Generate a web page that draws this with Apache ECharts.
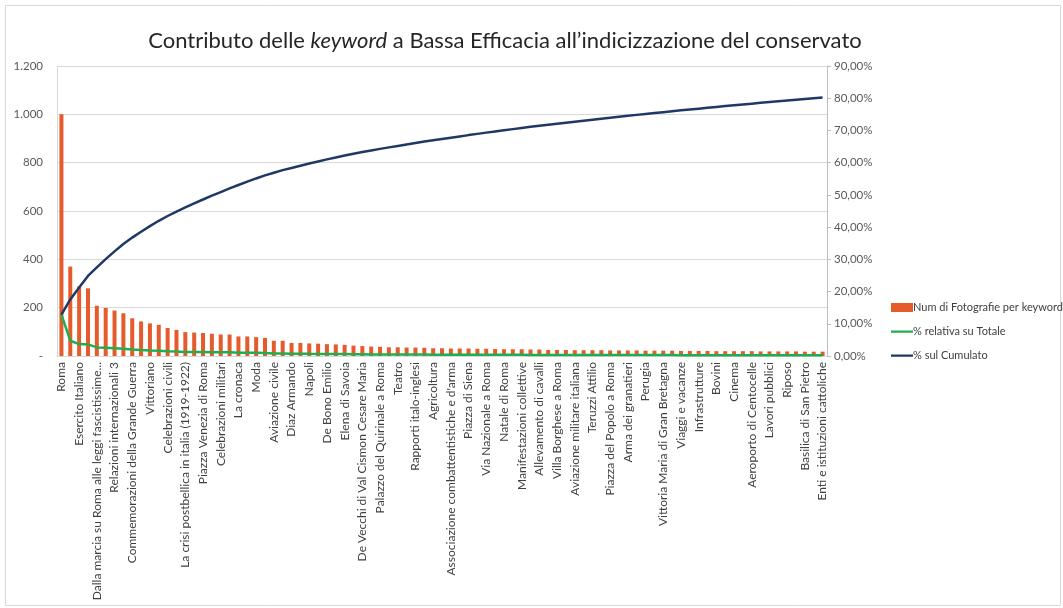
<!DOCTYPE html>
<html>
<head>
<meta charset="utf-8">
<script src="https://cdn.jsdelivr.net/npm/echarts@6/dist/echarts.min.js"></script>
<style>
html,body{margin:0;padding:0;background:#fff;}
#chart{width:1063px;height:608px;}
</style>
</head>
<body>
<div id="chart"></div>
<script>
// Labels shown on the category axis (every other keyword is labelled in the original)
const shownLabels = [
  "Roma","Esercito Italiano","Dalla marcia su Roma alle leggi fascistissime...","Relazioni internazionali 3",
  "Commemorazioni della Grande Guerra","Vittoriano","Celebrazioni civili","La crisi postbellica in italia (1919-1922)",
  "Piazza Venezia di Roma","Celebrazioni militari","La cronaca","Moda","Aviazione civile","Diaz Armando","Napoli",
  "De Bono Emilio","Elena di Savoia","De Vecchi di Val Cismon Cesare Maria","Palazzo del Quirinale a Roma","Teatro",
  "Rapporti italo-inglesi","Agricoltura","Associazione combattentistiche e d'arma","Piazza di Siena",
  "Via Nazionale a Roma","Natale di Roma","Manifestazioni collettive","Allevamento di cavalli","Villa Borghese a Roma",
  "Aviazione militare italiana","Teruzzi Attilio","Piazza del Popolo a Roma","Arma dei granatieri","Perugia",
  "Vittoria Maria di Gran Bretagna","Viaggi e vacanze","Infrastrutture","Bovini","Cinema","Aeroporto di Centocelle",
  "Lavori pubblici","Riposo","Basilica di San Pietro","Enti e istituzioni cattoliche"
];

// Number of photographs per keyword (87 keywords)
const photoCounts = [
  1000,370,288,280,208,199,188,177,156,143,
  135,129,116,108,99,97,95,92,89,89,
  81,81,78,75,63,63,54,54,52,51,
  49,48,46,43,41,39,38,36,36,35,
  35,34,32,32,31,31,31,30,30,29,
  28,28,28,27,27,25,25,25,24,24,
  24,24,23,23,23,23,22,22,22,22,
  21,21,21,21,20,20,20,20,20,19,
  19,19,19,19,18,18,18
];

// Total number of photographs in the collection (percent base of the two lines)
const totalPhotos = 7800;

const leftTicks = ["-","200","400","600","800","1.000","1.200"];

const seriesNames = ["Num di Fotografie per keyword","% relativa su Totale","% sul Cumulato"];

// Build category list: unlabeled keywords get empty names
const categories = photoCounts.map((_, i) => (i % 2 === 0 ? shownLabels[i / 2] : ""));

// Percent lines derived from the counts (as in the original Pareto chart)
const relShare = photoCounts.map(v => v / totalPhotos);
let acc = 0;
const cumShare = photoCounts.map(v => { acc += v; return acc / totalPhotos; });

const FONT = "Lato, 'Open Sans', sans-serif";
// thin line legend icon (tiny corner dots fix the bounding box so the bar is not stretched)
const LINE_ICON = 'path://M0,0h0.01v0.01h-0.01z M0,3.4h22v2.4h-22z M21.99,8.99h0.01v0.01h-0.01z';

const chart = echarts.init(document.getElementById('chart'), null, {renderer: 'canvas'});

chart.setOption({
  backgroundColor: '#ffffff',
  animation: false,
  textStyle: {fontFamily: FONT},
  graphic: [
    {
      type: 'rect', left: 3, top: 3, silent: true,
      shape: {width: 1055, height: 600},
      style: {fill: 'none', stroke: '#d9d9d9', lineWidth: 1}
    },
    {
      type: 'text', x: 505, y: 41, silent: true,
      style: {
        text: '{a|Contributo delle }{b|keyword}{a| a Bassa Efficacia all\u2019indicizzazione del conservato}',
        align: 'center', verticalAlign: 'middle',
        rich: {
          a: {fontSize: 22, fontFamily: FONT, fill: '#262626', color: '#262626'},
          b: {fontSize: 22, fontFamily: FONT, fontStyle: 'italic', fill: '#262626', color: '#262626'}
        }
      }
    }
  ],
  legend: {
    orient: 'vertical',
    left: 886, top: 297,
    itemWidth: 22, itemHeight: 9, itemGap: 13,
    textStyle: {fontSize: 11, color: '#404040', fontFamily: FONT, padding: [0, 0, 0, -5]},
    data: [
      {name: seriesNames[0], icon: 'rect'},
      {name: seriesNames[1], icon: LINE_ICON},
      {name: seriesNames[2], icon: LINE_ICON}
    ]
  },
  grid: {left: 57, right: 236, top: 66, bottom: 252, containLabel: false, outerBoundsMode: 'none'},
  xAxis: {
    type: 'category',
    data: categories,
    boundaryGap: true,
    axisLine: {show: true, lineStyle: {color: '#d9d9d9'}},
    axisTick: {show: false},
    axisLabel: {
      interval: 1, rotate: 90, fontSize: 12, color: '#404040', margin: 6, fontFamily: FONT
    }
  },
  yAxis: [
    {
      type: 'value', min: 0, max: 1200, interval: 200,
      axisLine: {show: true, lineStyle: {color: '#d9d9d9'}},
      axisTick: {show: false},
      splitLine: {show: true, lineStyle: {color: '#d9d9d9', width: 1}},
      axisLabel: {
        fontSize: 11.5, color: '#595959', margin: 14, fontFamily: FONT,
        formatter: v => leftTicks[Math.round(v / 200)]
      }
    },
    {
      type: 'value', min: 0, max: 0.9, interval: 0.1, position: 'right',
      axisLine: {show: true, lineStyle: {color: '#bfbfbf'}},
      axisTick: {show: true, inside: false, length: 4, lineStyle: {color: '#bfbfbf'}},
      splitLine: {show: false},
      axisLabel: {
        fontSize: 11.5, color: '#595959', margin: 7, fontFamily: FONT,
        formatter: v => (v * 100).toFixed(2).replace('.', ',') + '%'
      }
    }
  ],
  series: [
    {
      name: seriesNames[0], type: 'bar', yAxisIndex: 0,
      data: photoCounts, barWidth: 4,
      itemStyle: {color: '#E55B2C'}, z: 2
    },
    {
      name: seriesNames[1], type: 'line', yAxisIndex: 1,
      data: relShare, symbol: 'none',
      lineStyle: {color: '#1FAE4F', width: 2.5}, itemStyle: {color: '#1FAE4F'}, z: 3
    },
    {
      name: seriesNames[2], type: 'line', yAxisIndex: 1,
      data: cumShare, symbol: 'none',
      lineStyle: {color: '#1F3864', width: 2.5}, itemStyle: {color: '#1F3864'}, z: 4
    }
  ]
});
</script>
</body>
</html>
